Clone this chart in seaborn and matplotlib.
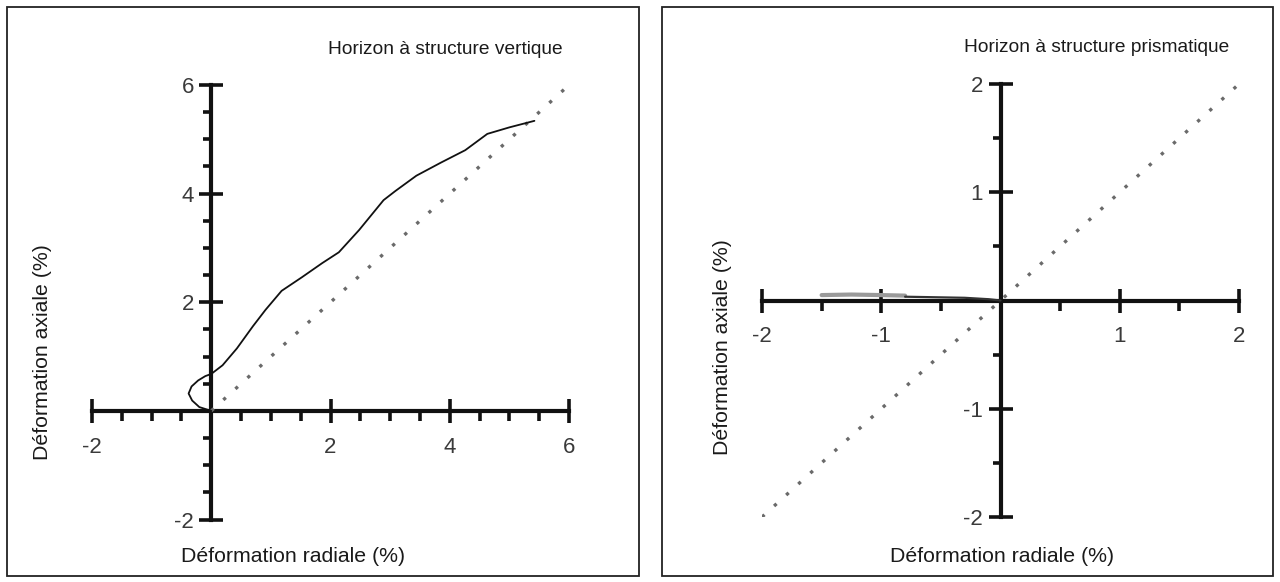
import matplotlib
matplotlib.use("Agg")
import matplotlib.pyplot as plt
import seaborn as sns
import pandas as pd
from matplotlib.patches import Rectangle

# ---------------- data ----------------
# Left panel: Horizon à structure vertique
left_title = "Horizon à structure vertique"
left_curve_x = [0.0, -0.2, -0.32, -0.38, -0.33, -0.22, -0.10, 0.0, 0.19, 0.43, 0.70,
                0.91, 1.18, 1.52, 1.86, 2.14, 2.48, 2.89, 3.09, 3.44, 3.85, 4.26,
                4.63, 5.00, 5.42]
left_curve_y = [0.0, 0.07, 0.19, 0.32, 0.45, 0.56, 0.64, 0.68, 0.84, 1.15, 1.56,
                1.86, 2.21, 2.46, 2.72, 2.92, 3.33, 3.88, 4.05, 4.33, 4.57, 4.80,
                5.10, 5.22, 5.34]
left_diag_x = [0.0, 6.0]
left_diag_y = [0.0, 6.0]
left_xticks = [-2, 0, 2, 4, 6]
left_xticklabels = ["-2", "", "2", "4", "6"]
left_yticks = [-2, 0, 2, 4, 6]
left_yticklabels = ["-2", "", "2", "4", "6"]
left_minor = [-1.5, -1, -0.5, 0.5, 1, 1.5, 2.5, 3, 3.5, 4.5, 5, 5.5]

# Right panel: Horizon à structure prismatique
right_title = "Horizon à structure prismatique"
right_gray_x = [-1.50, -1.25, -1.00, -0.80]
right_gray_y = [0.05, 0.055, 0.05, 0.045]
right_dark_x = [-0.80, -0.55, -0.30, -0.10, 0.0]
right_dark_y = [0.035, 0.03, 0.025, 0.012, 0.0]
right_diag_x = [-2.0, 2.0]
right_diag_y = [-2.0, 2.0]
right_xticks = [-2, -1, 0, 1, 2]
right_xticklabels = ["-2", "-1", "", "1", "2"]
right_yticks = [-2, -1, 0, 1, 2]
right_yticklabels = ["-2", "-1", "", "1", "2"]
right_minor = [-1.5, -0.5, 0.5, 1.5]

xlabel = "Déformation radiale (%)"
ylabel = "Déformation axiale (%)"

# ---------------- style ----------------
sns.set_style("white")
FONT = ["Liberation Sans", "DejaVu Sans"]
plt.rcParams["font.family"] = FONT

W, H = 1280, 582
fig = plt.figure(figsize=(W / 100, H / 100), dpi=100)


def fx(px):
    return px / W


def fy(py):
    return 1 - py / H


# panel boxes
for (x0, x1) in [(7, 639), (662, 1273)]:
    fig.patches.append(Rectangle((fx(x0), fy(576)), fx(x1) - fx(x0), fy(7) - fy(576),
                                 transform=fig.transFigure, fill=False,
                                 edgecolor="#222222", linewidth=1.3, zorder=0))

# axes: data-to-pixel placement
ax1 = fig.add_axes([fx(92), fy(519.5), fx(569) - fx(92), fy(85) - fy(519.5)])
ax2 = fig.add_axes([fx(762), fy(517), fx(1239) - fx(762), fy(84) - fy(517)])


def style(ax, lim_x, lim_y, xt, xtl, yt, ytl, minor):
    ax.set_xlim(lim_x)
    ax.set_ylim(lim_y)
    ax.patch.set_visible(False)
    for s in ["top", "right"]:
        ax.spines[s].set_visible(False)
    for s in ["left", "bottom"]:
        ax.spines[s].set_position(("data", 0))
        ax.spines[s].set_linewidth(3.0)
        ax.spines[s].set_color("#111111")
        ax.spines[s].set_zorder(1)
    ax.set_xticks(xt)
    ax.set_xticklabels(xtl)
    ax.set_yticks(yt)
    ax.set_yticklabels(ytl)
    ax.set_xticks(minor, minor=True)
    ax.set_yticks(minor, minor=True)
    ax.tick_params(axis="x", which="both", bottom=True, top=False)
    ax.tick_params(axis="y", which="both", left=True, right=False)
    ax.tick_params(axis="both", which="major", direction="inout", length=17, width=2.6,
                   color="#111111", labelsize=16, labelcolor="#3a3a3a")
    ax.tick_params(axis="x", which="major", pad=10)
    ax.tick_params(axis="y", which="major", pad=4)
    ax.tick_params(axis="x", which="minor", direction="out", length=7, width=2.6,
                   color="#111111")
    ax.tick_params(axis="y", which="minor", direction="out", length=6, width=2.6,
                   color="#111111")
    ax.set_xlabel("")
    ax.set_ylabel("")


# left panel
sns.lineplot(x=left_diag_x, y=left_diag_y, ax=ax1, color="#6a6a6a",
             linewidth=2.4, linestyle=(0, (1, 3.9)), zorder=2)
sns.lineplot(data=pd.DataFrame({"x": left_curve_x, "y": left_curve_y}), x="x", y="y",
             ax=ax1, sort=False, estimator=None, color="#111111", linewidth=1.3, zorder=3)
style(ax1, (-2, 6), (-2, 6), left_xticks, left_xticklabels, left_yticks,
      left_yticklabels, left_minor)

# right panel
sns.lineplot(x=right_diag_x, y=right_diag_y, ax=ax2, color="#6a6a6a",
             linewidth=2.4, linestyle=(0, (1, 3.9)), zorder=2)
sns.lineplot(data=pd.DataFrame({"x": right_gray_x, "y": right_gray_y}), x="x", y="y",
             ax=ax2, sort=False, estimator=None, color="#9a9a9a", linewidth=3.0, zorder=3)
sns.lineplot(data=pd.DataFrame({"x": right_dark_x, "y": right_dark_y}), x="x", y="y",
             ax=ax2, sort=False, estimator=None, color="#333333", linewidth=1.6, zorder=3)
style(ax2, (-2, 2), (-2, 2), right_xticks, right_xticklabels, right_yticks,
      right_yticklabels, right_minor)

# texts
fig.text(fx(445), fy(49), left_title, fontsize=13.8, color="#1a1a1a", ha="center", va="center")
fig.text(fx(1097), fy(48), right_title, fontsize=13.8, color="#1a1a1a", ha="center", va="center")
lkw = dict(fontsize=15.3, color="#1a1a1a", ha="center", va="center")
fig.text(fx(293), fy(556), xlabel, **lkw)
fig.text(fx(1002), fy(556), xlabel, **lkw)
fig.text(fx(43), fy(352), ylabel, rotation=90, **lkw)
fig.text(fx(722), fy(347), ylabel, rotation=90, **lkw)

fig.savefig("out.png", dpi=100, facecolor="white")
